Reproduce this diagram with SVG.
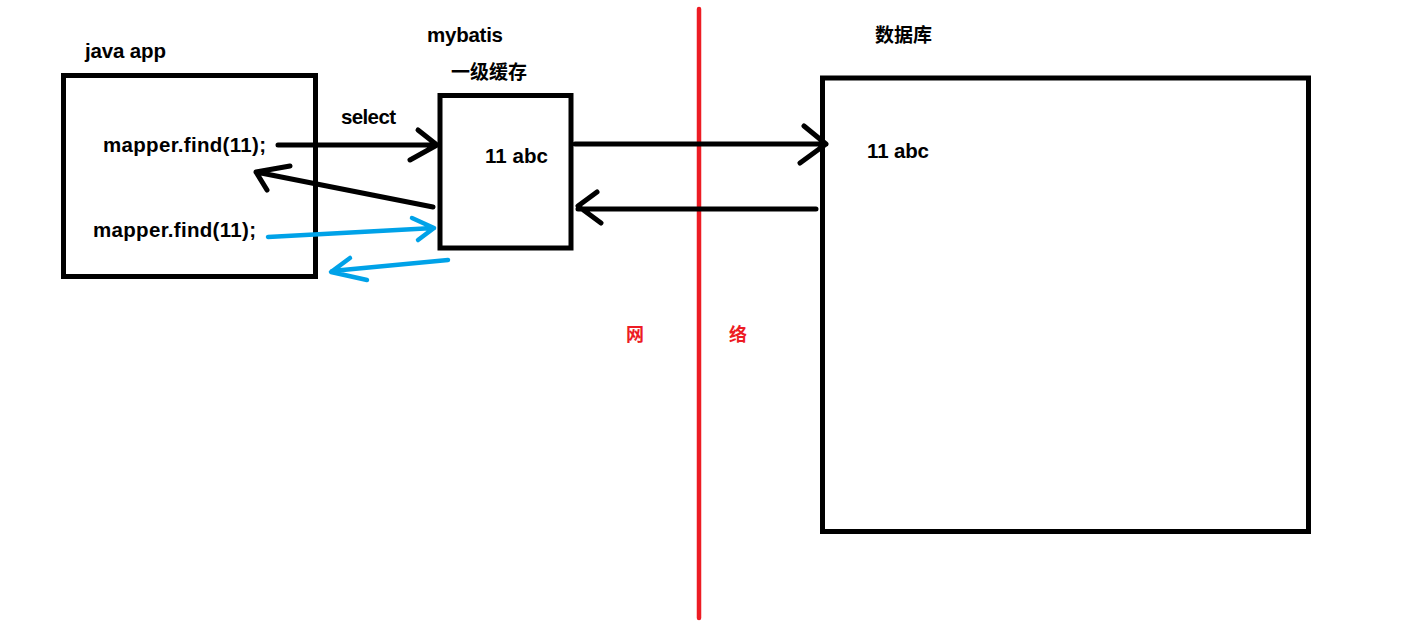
<svg xmlns="http://www.w3.org/2000/svg" width="1404" height="643" viewBox="0 0 1404 643">
<style>
.box{fill:none;stroke:#000;stroke-width:5}
.t{font-family:"Liberation Sans","Noto Sans CJK SC",sans-serif;font-weight:bold;font-size:20.5px;fill:#000}
.cjk{font-family:"Noto Sans CJK SC","Liberation Sans",sans-serif;font-weight:bold;font-size:19px;fill:#000}
.red{fill:#ED1C24;font-size:18px}
.k{fill:none;stroke:#000;stroke-width:5;stroke-linecap:round;stroke-linejoin:round}
.b{fill:none;stroke:#00A2E8;stroke-width:4.5;stroke-linecap:round;stroke-linejoin:round}
</style>
<rect width="1404" height="643" fill="#fff"/>
<g id="java-app">
<rect class="box" x="63.5" y="75.5" width="252" height="201"/>
<text class="t" x="85" y="58" textLength="81">java app</text>
<text class="t" x="103" y="152" textLength="163">mapper.find(11);</text>
<text class="t" x="93" y="237" textLength="163">mapper.find(11);</text>
</g>
<g id="mybatis">
<text class="t" x="427" y="42" textLength="76">mybatis</text>
<text class="cjk" x="451" y="79" textLength="76">一级缓存</text>
<rect class="box" x="440" y="95.5" width="131" height="152.5"/>
<text class="t" x="485" y="163" textLength="63">11 abc</text>
</g>
<g id="database">
<text class="cjk" x="875" y="42" textLength="57">数据库</text>
<rect class="box" x="822.5" y="78" width="486" height="453.5"/>
<text class="t" x="867" y="158" textLength="62">11 abc</text>
</g>
<g id="network">
<line x1="699" y1="9" x2="699" y2="618" stroke="#ED1C24" stroke-width="4.5" stroke-linecap="round"/>
<text class="cjk red" x="626" y="341">网</text>
<text class="cjk red" x="729" y="341">络</text>
</g>
<g id="connectors">
<text class="t" x="341" y="124" textLength="55">select</text>
<path class="k" d="M278 145 L437 145 M418 130 L437 145 L410 160"/>
<path class="k" d="M433 207 L256 172 M290 166 L256 172 L267 190"/>
<path class="k" d="M575 144 L826 144 M804 126 L826 144 L800 163"/>
<path class="k" d="M816 209 L578 209 M597 192 L578 206 L601 223"/>
<path class="b" d="M268 237 L434 228 M412 218 L434 228 L418 240"/>
<path class="b" d="M448 260 L332 271 M350 258 L331 272 L367 280"/>
</g>
</svg>
